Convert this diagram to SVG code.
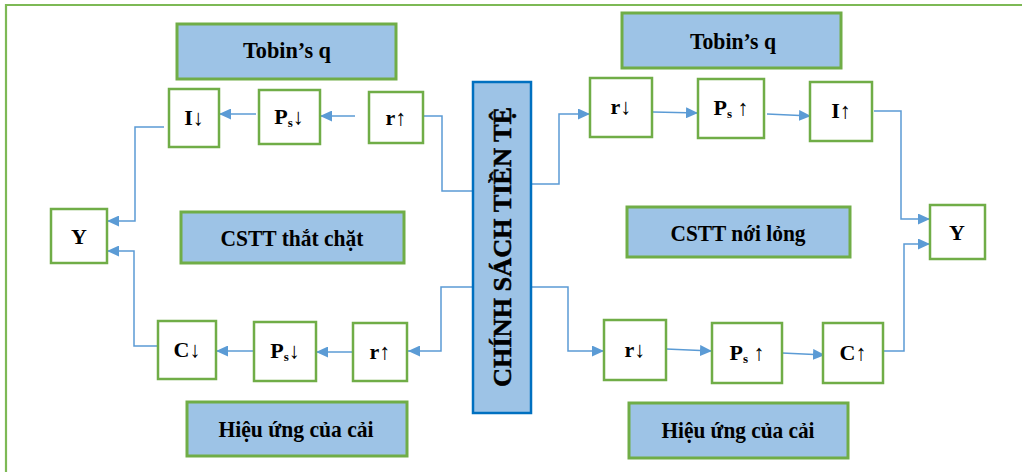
<svg xmlns="http://www.w3.org/2000/svg" width="1022" height="472" viewBox="0 0 1022 472">
<style>
.lbl{fill:#9DC3E6;stroke:#70AD47;stroke-width:3}
.box{fill:#FFFFFF;stroke:#70AD47;stroke-width:2.5}
text{font-family:'Liberation Serif','DejaVu Serif',serif;font-weight:700;fill:#000;text-anchor:middle}
.big{font-size:24px}
.sm{font-size:22px}
.sub{font-size:13px}
.c{fill:none;stroke:#5B9BD5;stroke-width:1.5}
</style>
<defs>
<marker id="ah" markerUnits="userSpaceOnUse" markerWidth="13" markerHeight="11" refX="12" refY="5.5" orient="auto">
<path d="M0,0 L12,5.5 L0,11 Z" fill="#5B9BD5"/>
</marker>
</defs>
<rect width="1022" height="472" fill="#FFFFFF"/>
<polyline points="6,472 6,5 1022,5" fill="none" stroke="#7DB955" stroke-width="2.2"/>

<g id="connectors">
<polyline class="c" points="473,191 442,191 442,116 423,116"/>
<line class="c" x1="355" y1="116" x2="320" y2="116" marker-end="url(#ah)"/>
<line class="c" x1="256" y1="114" x2="219" y2="114" marker-end="url(#ah)"/>
<polyline class="c" points="164,127 135,127 135,221 107,221" marker-end="url(#ah)"/>
<polyline class="c" points="473,287 441,287 441,351 408,351" marker-end="url(#ah)"/>
<line class="c" x1="352" y1="352" x2="316" y2="352" marker-end="url(#ah)"/>
<line class="c" x1="253" y1="351" x2="216" y2="351" marker-end="url(#ah)"/>
<polyline class="c" points="162,346 134,346 134,251 107,251" marker-end="url(#ah)"/>
<polyline class="c" points="531,184 559,184 559,114 590,114" marker-end="url(#ah)"/>
<line class="c" x1="653" y1="112" x2="698" y2="113" marker-end="url(#ah)"/>
<line class="c" x1="767" y1="114" x2="811" y2="116" marker-end="url(#ah)"/>
<polyline class="c" points="874,111 901,111 901,219 930,219" marker-end="url(#ah)"/>
<polyline class="c" points="531,287 568,287 568,351 604,351" marker-end="url(#ah)"/>
<line class="c" x1="666" y1="349" x2="712" y2="351" marker-end="url(#ah)"/>
<line class="c" x1="782" y1="353" x2="825" y2="355" marker-end="url(#ah)"/>
<polyline class="c" points="883,351 904,351 904,244 930,244" marker-end="url(#ah)"/>
</g>

<g id="center">
<rect x="473" y="82" width="58" height="331" fill="#9DC3E6" stroke="#0070C0" stroke-width="2.5"/>
<text font-size="25" stroke="#000" stroke-width="0.5" transform="translate(511,247) rotate(-90)" textLength="280" lengthAdjust="spacingAndGlyphs">CHÍNH SÁCH TIỀN TỆ</text>
</g>

<g id="tobin-left"><rect class="lbl" x="177" y="24" width="219" height="55"/><text class="big" x="287" y="58" textLength="88" lengthAdjust="spacingAndGlyphs">Tobin’s q</text></g>
<g id="tobin-right"><rect class="lbl" x="622" y="13" width="219" height="55"/><text class="big" x="733" y="49" textLength="86" lengthAdjust="spacingAndGlyphs">Tobin’s q</text></g>
<g id="cstt-left"><rect class="lbl" x="181" y="212" width="223" height="51"/><text class="big" x="292" y="246" textLength="143" lengthAdjust="spacingAndGlyphs">CSTT thắt chặt</text></g>
<g id="cstt-right"><rect class="lbl" x="627" y="207" width="223" height="50"/><text class="big" x="738" y="241" textLength="135" lengthAdjust="spacingAndGlyphs">CSTT nới lỏng</text></g>
<g id="wealth-left"><rect class="lbl" x="187" y="402" width="220" height="54"/><text class="big" x="296" y="437" textLength="155" lengthAdjust="spacingAndGlyphs">Hiệu ứng của cải</text></g>
<g id="wealth-right"><rect class="lbl" x="629" y="403" width="219" height="55"/><text class="big" x="738" y="438" textLength="153" lengthAdjust="spacingAndGlyphs">Hiệu ứng của cải</text></g>

<g id="y-left"><rect class="box" x="51" y="209" width="56" height="54"/><text class="sm" x="79" y="244">Y</text></g>
<g id="y-right"><rect class="box" x="930" y="205" width="55" height="54"/><text class="sm" x="957" y="240">Y</text></g>

<g id="i-down"><rect class="box" x="169" y="89" width="50" height="58"/><text class="sm" x="194" y="125">I↓</text></g>
<g id="ps-down-top"><rect class="box" x="259" y="90" width="61" height="54"/><text class="sm" x="289" y="124">P<tspan class="sub" dy="3">s</tspan><tspan dy="-3">↓</tspan></text></g>
<g id="r-up-top"><rect class="box" x="369" y="92" width="54" height="51"/><text class="sm" x="396" y="125">r↑</text></g>

<g id="c-down"><rect class="box" x="158" y="321" width="58" height="58"/><text class="sm" x="187" y="357">C↓</text></g>
<g id="ps-down-bottom"><rect class="box" x="254" y="322" width="62" height="59"/><text class="sm" x="285" y="358">P<tspan class="sub" dy="3">s</tspan><tspan dy="-3">↓</tspan></text></g>
<g id="r-up-bottom"><rect class="box" x="353" y="323" width="54" height="58"/><text class="sm" x="380" y="359">r↑</text></g>

<g id="r-down-top"><rect class="box" x="590" y="78" width="62" height="59"/><text class="sm" x="621" y="114">r↓</text></g>
<g id="ps-up-top"><rect class="box" x="698" y="79" width="66" height="59"/><text class="sm" x="731" y="115">P<tspan class="sub" dy="3">s</tspan><tspan dy="-3"> ↑</tspan></text></g>
<g id="i-up"><rect class="box" x="810" y="82" width="62" height="59"/><text class="sm" x="841" y="118">I↑</text></g>

<g id="r-down-bottom"><rect class="box" x="604" y="320" width="62" height="60"/><text class="sm" x="635" y="357">r↓</text></g>
<g id="ps-up-bottom"><rect class="box" x="712" y="323" width="70" height="60"/><text class="sm" x="747" y="360">P<tspan class="sub" dy="3">s</tspan><tspan dy="-3"> ↑</tspan></text></g>
<g id="c-up"><rect class="box" x="823" y="323" width="60" height="60"/><text class="sm" x="853" y="360">C↑</text></g>
</svg>
